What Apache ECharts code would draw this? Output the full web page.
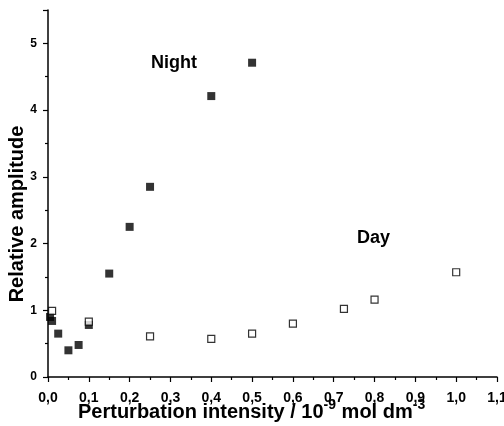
<!DOCTYPE html>
<html><head><meta charset="utf-8">
<script src="https://cdn.jsdelivr.net/npm/echarts@6/dist/echarts.min.js"></script>
<style>html,body{margin:0;padding:0;background:#fff}#c{width:504px;height:426px}</style>
</head><body><div id="c"></div>
<script>
const nightX = [0.005, 0.01, 0.025, 0.05, 0.075, 0.1, 0.15, 0.2, 0.25, 0.4, 0.5];
const nightY = [0.90, 0.84, 0.65, 0.40, 0.48, 0.78, 1.55, 2.25, 2.85, 4.21, 4.71];
const dayX = [0.01, 0.1, 0.25, 0.4, 0.5, 0.6, 0.725, 0.8, 1.0];
const dayY = [0.99, 0.83, 0.61, 0.57, 0.65, 0.80, 1.02, 1.16, 1.57];
const xTitle = 'Perturbation intensity / 10';
const yTitle = 'Relative amplitude';

const F = '"Liberation Sans", Arial, sans-serif';
const chart = echarts.init(document.getElementById('c'), null, {renderer: 'canvas'});
chart.setOption({
  animation: false,
  backgroundColor: '#fff',
  grid: {left: 48, right: 7, top: 10, bottom: 49, outerBoundsMode: 'none', containLabel: false},
  xAxis: {
    type: 'value', min: 0, max: 1.1, interval: 0.1,
    axisLine: {onZero: false, lineStyle: {color: '#000', width: 1.5}},
    axisTick: {show: true, length: 5, lineStyle: {color: '#000', width: 1.2}},
    minorTick: {show: true, splitNumber: 2, length: 3, lineStyle: {color: '#000', width: 1.2}},
    splitLine: {show: false},
    axisLabel: {color: '#000', fontFamily: F, fontWeight: 'bold', fontSize: 14, margin: 14,
      formatter: v => v.toFixed(1).replace('.', ',')}
  },
  yAxis: {
    type: 'value', min: 0, max: 5.5, interval: 1,
    axisLine: {onZero: false, lineStyle: {color: '#000', width: 1.5}},
    axisTick: {show: true, length: 5, lineStyle: {color: '#000', width: 1.2}},
    minorTick: {show: true, splitNumber: 2, length: 3, lineStyle: {color: '#000', width: 1.2}},
    splitLine: {show: false},
    axisLabel: {color: '#000', fontFamily: F, fontWeight: 'bold', fontSize: 12, margin: 11,
      showMaxLabel: false,
      formatter: v => (Number.isInteger(v) ? String(v) : '')}
  },
  series: [
    {type: 'scatter', name: 'Night', symbol: 'rect', symbolSize: 8,
      itemStyle: {color: '#000'}, z: 3,
      data: nightX.map((x, i) => [x, nightY[i]])},
    {type: 'scatter', name: 'Day', symbol: 'rect', symbolSize: 7,
      itemStyle: {color: '#fff', borderColor: '#000', borderWidth: 1.2}, z: 4,
      data: dayX.map((x, i) => [x, dayY[i]])}
  ],
  graphic: [
    {type: 'text', x: 151, y: 63, style: {text: 'Night', font: 'bold 18px ' + F, fill: '#000', verticalAlign: 'middle'}},
    {type: 'text', x: 357, y: 238, style: {text: 'Day', font: 'bold 18px ' + F, fill: '#000', verticalAlign: 'middle'}},
    {type: 'text', x: 17, y: 214, rotation: Math.PI / 2,
      style: {text: yTitle, font: 'bold 20px ' + F, fill: '#000', align: 'center', verticalAlign: 'middle'}},
    {type: 'text', x: 78, y: 410,
      style: {text: '{a|' + xTitle + '}{s|-9}{a| mol dm}{s|-3}', verticalAlign: 'middle',
        rich: {
          a: {fontFamily: F, fontWeight: 'bold', fontSize: 20, lineHeight: 24, verticalAlign: 'bottom', color: '#000'},
          s: {fontFamily: F, fontWeight: 'bold', fontSize: 14, lineHeight: 14, verticalAlign: 'top', color: '#000'}
        }}}
  ]
});
</script></body></html>
